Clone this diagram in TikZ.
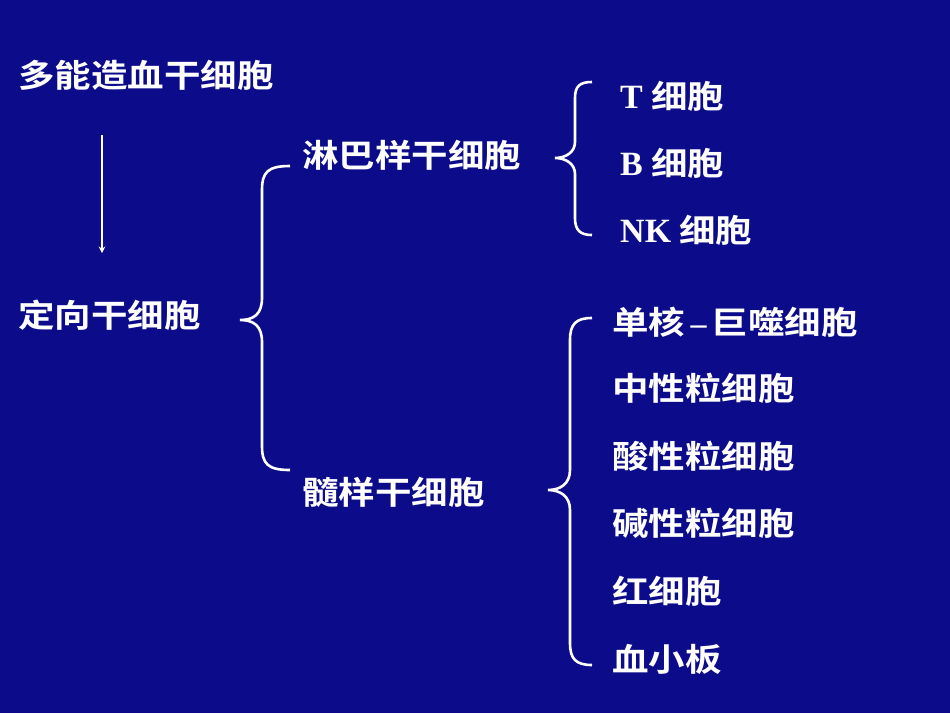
\documentclass[tikz,border=0pt]{standalone}
\usepackage{fontspec}
\newfontfamily\cjk{Noto Sans CJK SC}[BoldFont={Noto Sans CJK SC Bold},BoldFeatures={FakeStretch=1.14}]
\newfontfamily\lat{Liberation Serif}
\definecolor{bg}{RGB}{12,12,138}
\begin{document}
\begin{tikzpicture}[x=1pt,y=-1pt,
  lbl/.style={anchor=west,inner sep=0pt,text=white,font=\cjk\bfseries\fontsize{32}{34}\selectfont},
  br/.style={draw=white,line width=2.6pt}]
\fill[bg] (0,0) rectangle (950,713);
\useasboundingbox (0,0) rectangle (950,713);
\node[lbl] (a) at (18,75) {多能造血干细胞};
\node[lbl] (b) at (18,315) {定向干细胞};
\coordinate (a1) at (102,135);
\coordinate (b1) at (102,253);
\draw[white,line width=1.8pt,-stealth] (a1) -- (b1);
\node[lbl] (l) at (302,155) {淋巴样干细胞};
\node[lbl] (m) at (302,492) {髓样干细胞};
\node[lbl] (t) at (620,96) {{\lat\bfseries\fontsize{34}{36}\selectfont T} 细胞};
\node[lbl] (bb) at (620,163) {{\lat\bfseries\fontsize{34}{36}\selectfont B} 细胞};
\node[lbl] (nk) at (620,230) {{\lat\bfseries\fontsize{34}{36}\selectfont NK} 细胞};
\node[lbl] (c1) at (612,322) {单核{\lat\bfseries\,–\,}巨噬细胞};
\node[lbl] (c2) at (612,388) {中性粒细胞};
\node[lbl] (c3) at (612,456) {酸性粒细胞};
\node[lbl] (c4) at (612,523) {碱性粒细胞};
\node[lbl] (c5) at (612,591) {红细胞};
\node[lbl] (c6) at (612,659) {血小板};
% braces
\draw[br] (290,166) .. controls (268,166) and (262,172) .. (262,190) -- (262,298)
  .. controls (262,314) and (254,320) .. (240,320)
  .. controls (254,320) and (262,326) .. (262,342) -- (262,446)
  .. controls (262,464) and (268,470) .. (290,470);
\draw[br] (592,82) .. controls (580,82) and (575,86) .. (575,98) -- (575,142)
  .. controls (575,152) and (566,158) .. (555,158)
  .. controls (566,158) and (575,164) .. (575,174) -- (575,218)
  .. controls (575,230) and (580,235) .. (592,235);
\draw[br] (592,318) .. controls (576,318) and (570,324) .. (570,340) -- (570,470)
  .. controls (570,484) and (560,490) .. (548,490)
  .. controls (560,490) and (570,496) .. (570,510) -- (570,643)
  .. controls (570,659) and (576,665) .. (592,665);
\end{tikzpicture}
\end{document}
